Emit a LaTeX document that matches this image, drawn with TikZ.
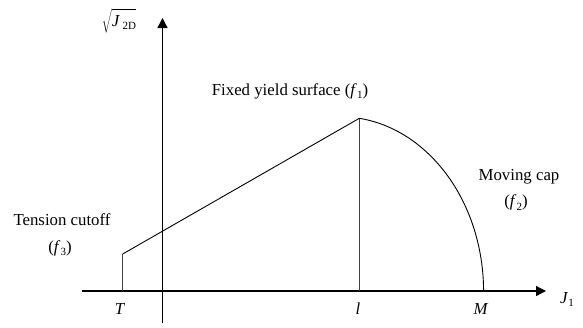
\documentclass[tikz,border=0pt]{standalone}
\usepackage{fontspec}
\setmainfont{Liberation Serif}
\usetikzlibrary{arrows.meta}
\newcommand{\mysub}[1]{\raisebox{-0.22em}{\fontsize{11}{11}\selectfont #1}}
\begin{document}
\begin{tikzpicture}[x=1pt,y=-1pt,
  lbl/.style={font=\fontsize{16.8}{20}\selectfont, anchor=base, inner sep=0pt},
  axis/.style={line width=1.3pt, -{Triangle[length=10pt,width=10pt]}},
  thinline/.style={line width=0.8pt, black!75},
  curve/.style={line width=0.9pt, black}]
\useasboundingbox (0,0) rectangle (583,327);
% coordinates
\coordinate (ybot) at (162.5,323);
\coordinate (ytop) at (162.5,18);
\coordinate (xleft) at (82,291);
\coordinate (xright) at (546,291);
\coordinate (Tb) at (122.7,291);
\coordinate (Tt) at (122.7,254);
\coordinate (peak) at (359.3,118.3);
\coordinate (lb) at (359.3,291);
% axes
\draw[axis] (ybot) -- (ytop);
\draw[axis] (xleft) -- (xright);
% curves
\draw[thinline] (Tb) -- (Tt);
\draw[curve] (Tt) -- (peak);
\draw[thinline] (peak) -- (lb);
\draw[curve] (peak) arc[start angle=-82.3, end angle=0, x radius=143.5, y radius=174.8] coordinate (Mpt);
% labels
\node[lbl] (fixed) at (290,95) {Fixed yield surface (\textit{f}\mysub{1})};
\node[lbl] (moving) at (519,180.7) {Moving cap};
\node[lbl] (f2) at (516,206.5) {(\textit{f}\mysub{2})};
\node[lbl] (tension) at (62,225.7) {Tension cutoff};
\node[lbl] (f3) at (60,252) {(\textit{f}\mysub{3})};
\node[lbl] (T) at (120,314) {\textit{T}};
\node[lbl] (l) at (358,314) {\textit{l}};
\node[lbl] (M) at (481,314) {\textit{M}};
\node[lbl] (J1) at (567,303) {\textit{J}\mysub{1}};
\node[lbl] (J2D) at (119,26) {$\sqrt{\mbox{\textit{J}\,\mysub{2D}}\vphantom{(}}$};
\end{tikzpicture}
\end{document}
